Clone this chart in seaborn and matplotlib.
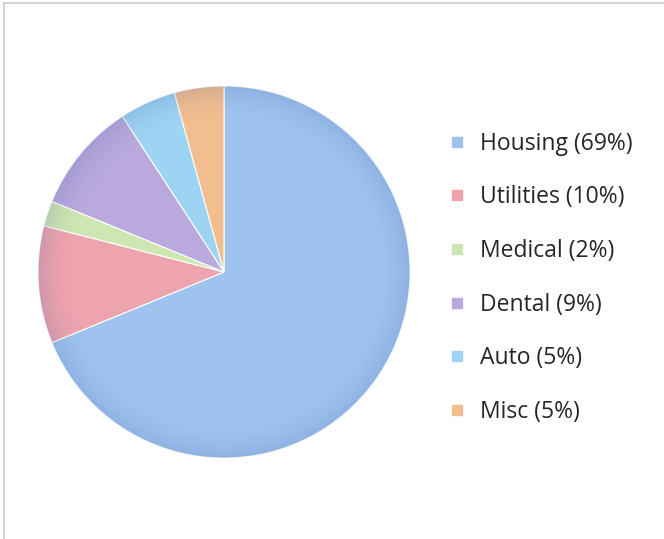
import matplotlib
matplotlib.use("Agg")
import matplotlib.pyplot as plt
import seaborn as sns
import numpy as np
from matplotlib.patches import Circle
from matplotlib.lines import Line2D

categories = ["Housing", "Utilities", "Medical", "Dental", "Auto", "Misc"]
values = [68.8, 10.2, 2.2, 9.6, 4.9, 4.3]
legend_pcts = ["69%", "10%", "2%", "9%", "5%", "5%"]
colors = ["#9EC3EF", "#EDA4AE", "#CDE6B2", "#B9A9DD", "#9DD3F3", "#F2BE8F"]

sns.set_theme(style="white")
plt.rcParams['font.family'] = ['Open Sans', 'DejaVu Sans']

W, H = 664, 539
fig = plt.figure(figsize=(W / 100, H / 100), dpi=100)
fig.patch.set_facecolor("white")

cx, cy, r = 224, 272, 186
ax = fig.add_axes([(cx - r) / W, 1 - (cy + r) / H, 2 * r / W, 2 * r / H])
wedges, _ = ax.pie(values, colors=sns.color_palette(colors), startangle=90,
                   counterclock=False, radius=1.0,
                   wedgeprops=dict(edgecolor="#FFFFFF", linewidth=0.8))
ax.set_xlim(-1.0, 1.0)
ax.set_ylim(-1.0, 1.0)
ax.set_aspect("equal")
ax.axis("off")

# subtle rim shading
n = 400
yy, xx = np.mgrid[-1:1:n * 1j, -1:1:n * 1j]
rr = np.sqrt(xx ** 2 + yy ** 2)
shade = np.zeros((n, n, 4))
shade[..., 0] = 0.2
shade[..., 1] = 0.3
shade[..., 2] = 0.6
shade[..., 3] = np.clip((rr - 0.8) / 0.2, 0, 1) ** 2 * 0.15
im = ax.imshow(shade, extent=(-1, 1, -1, 1), origin="lower", zorder=3)
clip = Circle((0, 0), 1.0, transform=ax.transData)
im.set_clip_path(clip)

handles = [Line2D([0], [0], marker="s", linestyle="", markersize=7,
                  markerfacecolor=c, markeredgecolor=c) for c in colors]
labels = [f"{c} ({p})" for c, p in zip(categories, legend_pcts)]
fig.legend(handles, labels, loc="upper left",
           bbox_to_anchor=(428 / W, 1 - 111 / H), frameon=False,
           fontsize=16.5, labelspacing=1.295, handlelength=0.7,
           handletextpad=0.65, labelcolor="#262626")

# chart frame (top and left edges visible)
fig.add_artist(Line2D([4 / W, 1], [1 - 3 / H, 1 - 3 / H], color="#C8CCD2", lw=1.2))
fig.add_artist(Line2D([4 / W, 4 / W], [0, 1 - 3 / H], color="#C8CCD2", lw=1.2))

fig.savefig("out.png", dpi=100, facecolor="white")
